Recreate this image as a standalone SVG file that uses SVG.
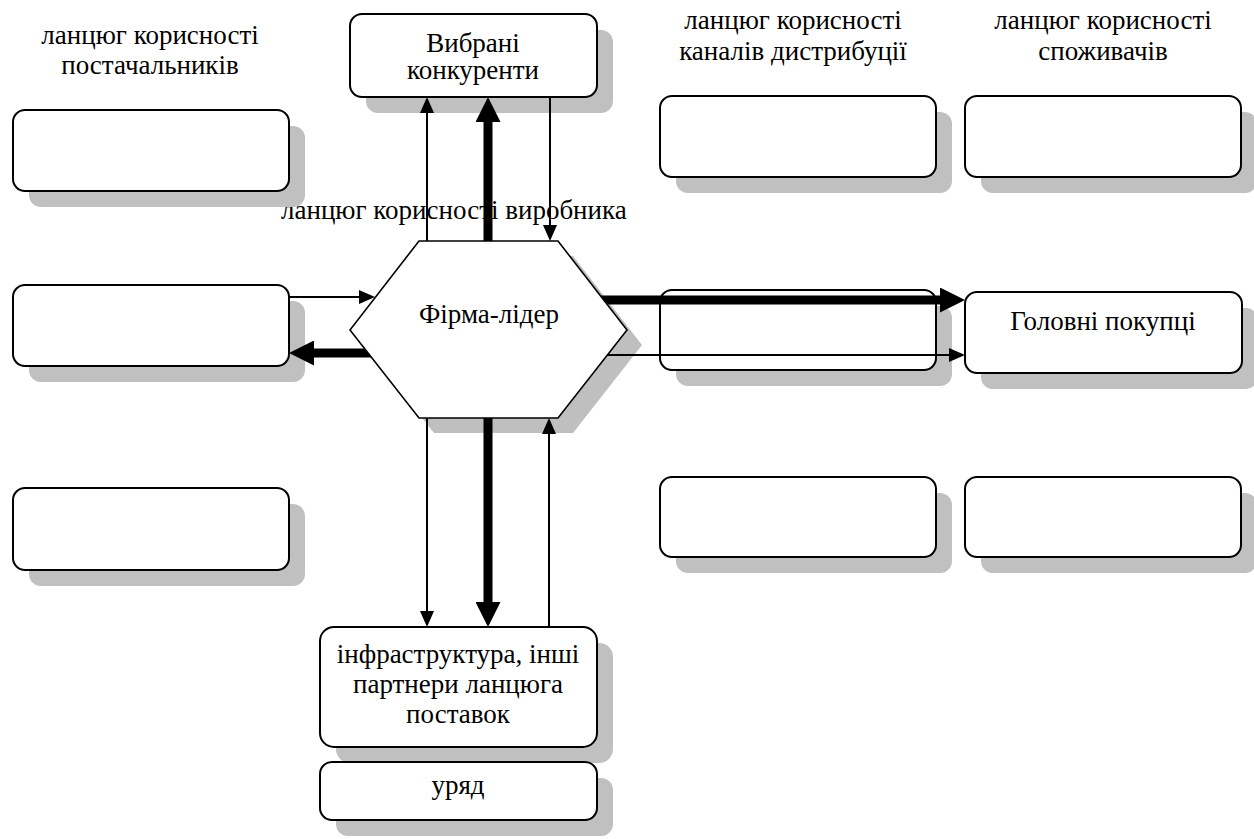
<svg xmlns="http://www.w3.org/2000/svg" width="1254" height="839" viewBox="0 0 1254 839">
  <style>
    .box { fill: #ffffff; stroke: #000000; stroke-width: 2; }
    .shadow { fill: #c0c0c0; stroke: none; }
    .hex { fill: #ffffff; stroke: #000000; stroke-width: 1.6; }
    .hexshadow { fill: #000000; fill-opacity: 0.25; stroke: none; }
    text { font-family: 'Liberation Serif', 'DejaVu Serif', serif; font-size: 27px; fill: #000000; }
    .mid { text-anchor: middle; }
    .thin { stroke: #000000; stroke-width: 2; fill: none; marker-end: url(#headThin); }
    .thick { stroke: #000000; stroke-width: 9; fill: none; marker-end: url(#headThick); }
  </style>
  <defs>
    <marker id="headThin" viewBox="0 0 16 14" refX="0" refY="7" markerWidth="16" markerHeight="14" markerUnits="userSpaceOnUse" orient="auto">
      <path d="M0,0 L16,7 L0,14 z" fill="#000000"/>
    </marker>
    <marker id="headThick" viewBox="0 0 25 25" refX="0" refY="12.5" markerWidth="25" markerHeight="25" markerUnits="userSpaceOnUse" orient="auto">
      <path d="M0,0 L25,12.5 L0,25 z" fill="#000000"/>
    </marker>
  </defs>

  <rect width="1254" height="839" fill="#ffffff"/>

  <!-- column headings -->
  <g id="heading-suppliers" font-family="Liberation Serif, serif">
    <text class="mid" x="150" y="44">ланцюг корисності</text>
    <text class="mid" x="150" y="74">постачальників</text>
  </g>
  <g id="heading-channels" font-family="Liberation Serif, serif">
    <text class="mid" x="793" y="29">ланцюг корисності</text>
    <text class="mid" x="793" y="60">каналів дистрибуції</text>
  </g>
  <g id="heading-consumers" font-family="Liberation Serif, serif">
    <text class="mid" x="1103" y="29">ланцюг корисності</text>
    <text class="mid" x="1103" y="60">споживачів</text>
  </g>
  <g id="heading-producer">
    <text x="281" y="219">ланцюг корисності виробника</text>
  </g>

  <!-- supplier boxes -->
  <g id="supplier-1">
    <rect class="shadow" x="29" y="126" width="276" height="81" rx="12"/>
    <rect class="box" x="13" y="110" width="276" height="81" rx="12"/>
  </g>
  <g id="supplier-2">
    <rect class="shadow" x="29" y="301" width="276" height="81" rx="12"/>
    <rect class="box" x="13" y="285" width="276" height="81" rx="12"/>
  </g>
  <g id="supplier-3">
    <rect class="shadow" x="29" y="504" width="276" height="82" rx="12"/>
    <rect class="box" x="13" y="488" width="276" height="82" rx="12"/>
  </g>

  <!-- competitors -->
  <g id="competitors">
    <rect class="shadow" x="366" y="30" width="247" height="83" rx="12"/>
    <rect class="box" x="350" y="14" width="247" height="83" rx="12"/>
    <text class="mid" x="473" y="52">Вибрані</text>
    <text class="mid" x="473" y="79">конкуренти</text>
  </g>

  <!-- distribution channel boxes -->
  <g id="channel-1">
    <rect class="shadow" x="676" y="112" width="276" height="81" rx="12"/>
    <rect class="box" x="660" y="96" width="276" height="81" rx="12"/>
  </g>
  <g id="channel-2">
    <rect class="shadow" x="676" y="306" width="276" height="80" rx="12"/>
    <rect class="box" x="660" y="290" width="276" height="80" rx="12"/>
  </g>
  <g id="channel-3">
    <rect class="shadow" x="676" y="493" width="276" height="80" rx="12"/>
    <rect class="box" x="660" y="477" width="276" height="80" rx="12"/>
  </g>

  <!-- consumer boxes -->
  <g id="consumer-1">
    <rect class="shadow" x="981" y="112" width="276" height="81" rx="12"/>
    <rect class="box" x="965" y="96" width="276" height="81" rx="12"/>
  </g>
  <g id="main-buyers">
    <rect class="shadow" x="981" y="308" width="277" height="81" rx="12"/>
    <rect class="box" x="965" y="292" width="277" height="81" rx="12"/>
    <text class="mid" x="1103" y="330">Головні покупці</text>
  </g>
  <g id="consumer-3">
    <rect class="shadow" x="981" y="493" width="276" height="80" rx="12"/>
    <rect class="box" x="965" y="477" width="276" height="80" rx="12"/>
  </g>

  <!-- infrastructure and government -->
  <g id="infrastructure">
    <rect class="shadow" x="336" y="643" width="277" height="120" rx="14"/>
    <rect class="box" x="320" y="627" width="277" height="120" rx="14"/>
    <text class="mid" x="458" y="663">інфраструктура, інші</text>
    <text class="mid" x="458" y="693">партнери ланцюга</text>
    <text class="mid" x="458" y="723">поставок</text>
  </g>
  <g id="government">
    <rect class="shadow" x="336" y="778" width="277" height="58" rx="12"/>
    <rect class="box" x="320" y="762" width="277" height="58" rx="12"/>
    <text class="mid" x="458" y="794">уряд</text>
  </g>

  <!-- connectors -->
  <g id="connectors">
    <path class="thin" d="M427,241 V113"/>
    <path class="thick" d="M488,241 V122"/>
    <path class="thin" d="M550,97 V225"/>

    <path class="thin" d="M289,297 H359"/>
    <path class="thick" d="M372,353 H314"/>

    <path class="thick" d="M600,300 H940"/>
    <path class="thin" d="M600,355 H949"/>

    <path class="thin" d="M427,418 V611"/>
    <path class="thick" d="M488,418 V602"/>
    <path class="thin" d="M549,627 V434"/>
  </g>

  <!-- leading firm -->
  <g id="leader">
    <polygon class="hexshadow" points="434,256 573,256 642,345 573,433 434,433 365,345"/>
    <polygon class="hex" points="419,241 558,241 627,330 558,418 419,418 350,330"/>
    <text class="mid" x="489" y="323">Фірма-лідер</text>
  </g>
</svg>
